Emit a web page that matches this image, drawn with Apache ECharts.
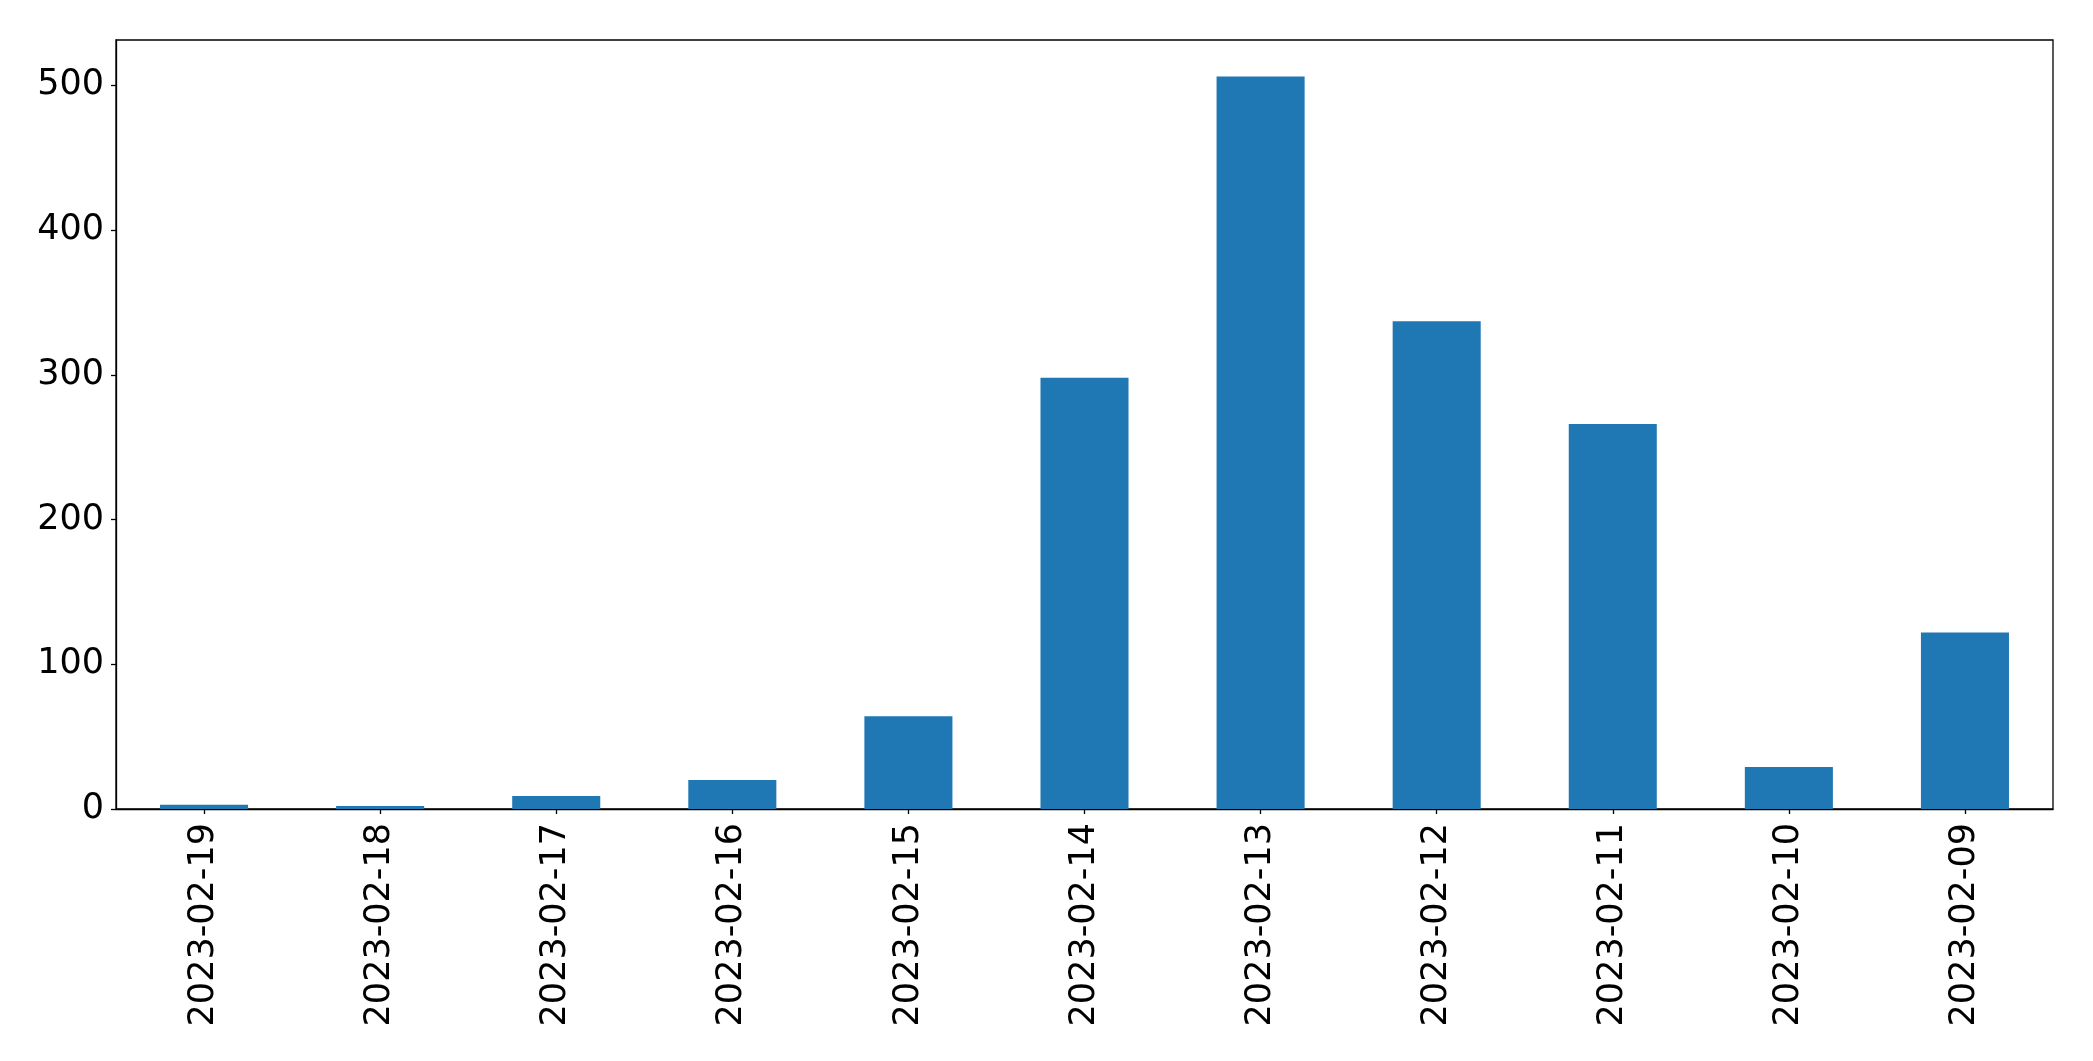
<!DOCTYPE html>
<html>
<head>
<meta charset="utf-8">
<script src="https://cdn.jsdelivr.net/npm/echarts@6/dist/echarts.min.js"></script>
<style>
html, body { margin: 0; padding: 0; background: #fff; }
#chart { width: 2093px; height: 1061px; }
</style>
</head>
<body>
<div id="chart"></div>
<script>
const categories = ['2023-02-19', '2023-02-18', '2023-02-17', '2023-02-16', '2023-02-15', '2023-02-14', '2023-02-13', '2023-02-12', '2023-02-11', '2023-02-10', '2023-02-09'];
const values = [3, 2, 9, 20, 64, 298, 506, 337, 266, 29, 122];
const yTicks = [0, 100, 200, 300, 400, 500];

const yMax = Math.max(...values) * 1.05;
const font = 'DejaVu Sans';

const chart = echarts.init(document.getElementById('chart'), null, { renderer: 'canvas' });
chart.setOption({
  animation: false,
  backgroundColor: '#ffffff',
  grid: {
    left: 116, right: 40, top: 40, bottom: 252,
    show: true, borderColor: '#000000', borderWidth: 1.3, backgroundColor: 'transparent'
  },
  xAxis: {
    type: 'category',
    data: categories,
    boundaryGap: true,
    axisLine: { show: true, lineStyle: { color: '#000000', width: 1.3 } },
    axisTick: { show: true, alignWithLabel: true, length: 5, lineStyle: { color: '#000000', width: 1.3 } },
    axisLabel: { rotate: 90, margin: 14, fontFamily: font, fontSize: 35, color: '#000000' },
    splitLine: { show: false }
  },
  yAxis: {
    type: 'value',
    min: 0,
    max: yMax,
    interval: 100,
    axisLine: { show: true, lineStyle: { color: '#000000', width: 1.3 } },
    axisTick: { show: true, length: 5, customValues: yTicks, lineStyle: { color: '#000000', width: 1.3 } },
    axisLabel: { margin: 12, fontFamily: font, fontSize: 35, color: '#000000', customValues: yTicks, padding: [6, 0, 0, 0] },
    splitLine: { show: false }
  },
  series: [{
    type: 'bar',
    data: values,
    barWidth: '50%',
    itemStyle: { color: '#1f77b4' }
  }]
});
</script>
</body>
</html>
